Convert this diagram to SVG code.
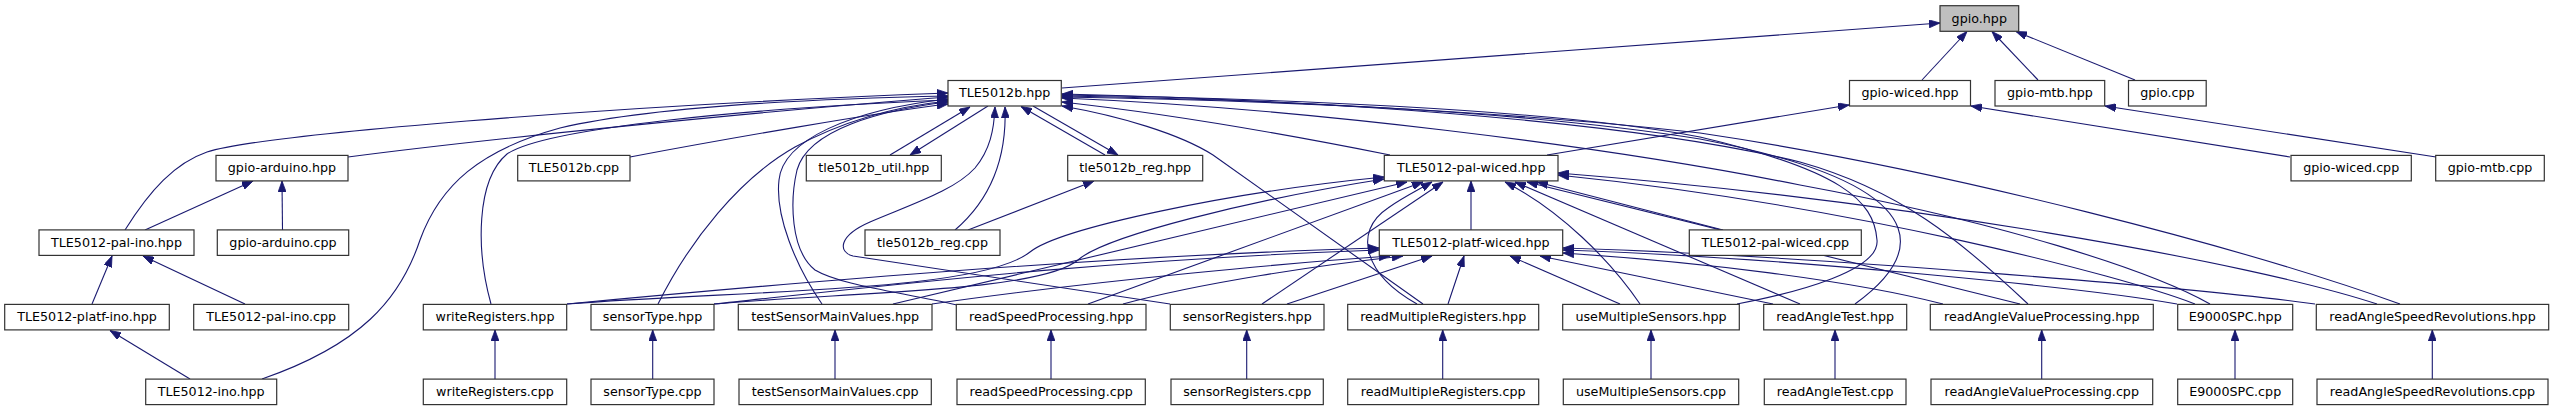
<svg xmlns="http://www.w3.org/2000/svg" width="2554" height="411" viewBox="0 0 2554 411">
<style>
.n rect{fill:#fff;stroke:#333;stroke-width:1.2}
.n.root rect{fill:#bfbfbf}
.n text{font-family:"DejaVu Sans",sans-serif;font-size:12.7px;fill:#000;text-anchor:middle}
#edges path{fill:none;stroke:#191970;stroke-width:1.1;marker-end:url(#ah)}
</style>
<defs>
<marker id="ah" viewBox="0 0 11 8" refX="11" refY="4" markerWidth="11" markerHeight="8" markerUnits="userSpaceOnUse" orient="auto">
<path d="M0,0 L11,4 L0,8 z" fill="#191970" stroke="#191970" stroke-width="0.8"/>
</marker>
</defs>
<rect width="2554" height="411" fill="#fff"/>
<g id="edges">
<path d="M1062,88 L1940,23"/>
<path d="M1922,80 L1967,31.5"/>
<path d="M2038,80 L1992,31.5"/>
<path d="M2135,80 L2016,31.5"/>
<path d="M1547,155 L1849,105"/>
<path d="M2290,157 L1971,106"/>
<path d="M2436,157 L2105,106"/>
<path d="M348,157 C500,137 800,108 948,97"/>
<path d="M125,230 C150,190 175,163 207,152 C260,135 600,106 948,93"/>
<path d="M262,379 C360,345 400,300 420,240 C440,185 480,150 560,128 C650,107 800,99 948,96"/>
<path d="M491,304 C476,250 476,180 507,154 C545,128 750,108 948,100"/>
<path d="M630,157 C720,140 880,112 948,104"/>
<path d="M658,304 C690,240 740,178 795,147 C845,120 900,106 948,101"/>
<path d="M822,304 C795,265 775,215 779,180 C783,140 850,110 948,99"/>
<path d="M957,305 C900,292 840,285 815,270 C790,250 790,200 797,170 C808,130 880,110 948,102"/>
<path d="M1170,304 L853,256 C838,252 838,236 870,222 C915,203 955,190 975,168 C990,150 994,130 995,107"/>
<path d="M890,155 L970,107"/>
<path d="M988,106 L910,155"/>
<path d="M955,230 C990,200 1007,160 1005,107"/>
<path d="M1105,155 L1021,106.5"/>
<path d="M1033,106 L1118,155"/>
<path d="M968,230 L1094,181"/>
<path d="M1390,155 C1320,141 1180,115 1062,102"/>
<path d="M1423,304 L1213,155 C1180,134 1120,116 1062,106"/>
<path d="M1737,304 C1800,292 1880,270 1877,240 C1874,200 1840,170 1700,137 C1550,108 1250,98 1062,95"/>
<path d="M1855,304 C1895,275 1906,250 1898,228 C1885,192 1820,162 1700,139 C1520,110 1250,99 1062,96"/>
<path d="M2028,304 C1960,240 1900,190 1800,162 C1620,118 1300,100 1062,94"/>
<path d="M2210,304 C2150,270 2000,222 1800,185 C1600,145 1300,108 1062,98"/>
<path d="M2400,304 C2250,250 1950,170 1700,133 C1500,110 1250,100 1062,97"/>
<path d="M567,304 C750,290 980,292 1030,252 C1060,228 1230,192 1384,177"/>
<path d="M714,304 C850,292 1040,292 1078,260 C1105,236 1250,200 1384,179"/>
<path d="M893,304 L1407,182"/>
<path d="M1088,304 L1423,182"/>
<path d="M1262,304 L1443,182"/>
<path d="M1417,304 C1365,275 1352,232 1388,208 C1402,198 1418,190 1432,182"/>
<path d="M1471,230 L1471,181"/>
<path d="M1640,304 C1610,260 1560,210 1505,182"/>
<path d="M1800,304 L1515,182"/>
<path d="M2020,304 L1527,182"/>
<path d="M1723,230 L1537,182"/>
<path d="M2195,304 C2120,275 1850,205 1558,175"/>
<path d="M2377,304 C2250,262 1900,200 1558,173"/>
<path d="M567,304 C800,282 1100,256 1379,248"/>
<path d="M714,304 C900,284 1100,260 1379,250"/>
<path d="M932,304 C1100,280 1300,262 1390,256"/>
<path d="M1123,304 C1200,283 1320,265 1403,256"/>
<path d="M1287,304 L1432,256"/>
<path d="M1448,304 L1464,256"/>
<path d="M1620,304 L1510,256"/>
<path d="M1773,304 L1540,256"/>
<path d="M1943,304 C1850,280 1700,262 1563,253"/>
<path d="M2177,304 C2100,290 1800,258 1563,250"/>
<path d="M2315,304 C2200,288 1800,255 1563,248"/>
<path d="M145,230 L253,181"/>
<path d="M282.5,230 L282,181"/>
<path d="M92,304 L112,256"/>
<path d="M245,304 L143,256"/>
<path d="M190,379 L110,330.5"/>
<path d="M495,379 L495,330"/>
<path d="M652.7,379 L652.7,330"/>
<path d="M835,379 L835,330"/>
<path d="M1051,379 L1051,330"/>
<path d="M1246.7,379 L1246.7,330"/>
<path d="M1442.7,379 L1442.7,330"/>
<path d="M1651,379 L1651,330"/>
<path d="M1835,379 L1835,330"/>
<path d="M2041.7,379 L2041.7,330"/>
<path d="M2235,379 L2235,330"/>
<path d="M2432.3,379 L2432.3,330"/>
</g>
<g id="n_gpio_hpp" class="n root"><rect x="1940" y="5.7" width="78.7" height="25.6"/><text x="1979.3" y="22.6">gpio.hpp</text></g>
<g id="n_TLE5012b_hpp" class="n"><rect x="948" y="80.5" width="113.3" height="25.5"/><text x="1004.7" y="97.4">TLE5012b.hpp</text></g>
<g id="n_gpio_wiced_hpp" class="n"><rect x="1849.5" y="80.5" width="121" height="25.5"/><text x="1910" y="97.4">gpio-wiced.hpp</text></g>
<g id="n_gpio_mtb_hpp" class="n"><rect x="1995" y="80.5" width="109.7" height="25.5"/><text x="2049.9" y="97.4">gpio-mtb.hpp</text></g>
<g id="n_gpio_cpp" class="n"><rect x="2128.5" y="80.5" width="77.7" height="25.5"/><text x="2167.4" y="97.4">gpio.cpp</text></g>
<g id="n_gpio_arduino_hpp" class="n"><rect x="216" y="155.4" width="132" height="25.5"/><text x="282" y="172.3">gpio-arduino.hpp</text></g>
<g id="n_TLE5012b_cpp" class="n"><rect x="517.7" y="155.4" width="112.3" height="25.5"/><text x="573.9" y="172.3">TLE5012b.cpp</text></g>
<g id="n_tle5012b_util_hpp" class="n"><rect x="806.3" y="155.4" width="135" height="25.5"/><text x="873.8" y="172.3">tle5012b_util.hpp</text></g>
<g id="n_tle5012b_reg_hpp" class="n"><rect x="1067.7" y="155.4" width="135" height="25.5"/><text x="1135.2" y="172.3">tle5012b_reg.hpp</text></g>
<g id="n_TLE5012_pal_wiced_hpp" class="n"><rect x="1384.3" y="155.4" width="173.7" height="25.5"/><text x="1471.2" y="172.3">TLE5012-pal-wiced.hpp</text></g>
<g id="n_gpio_wiced_cpp" class="n"><rect x="2291" y="155.4" width="120.3" height="25.5"/><text x="2351.2" y="172.3">gpio-wiced.cpp</text></g>
<g id="n_gpio_mtb_cpp" class="n"><rect x="2435.7" y="155.4" width="108.6" height="25.5"/><text x="2490" y="172.3">gpio-mtb.cpp</text></g>
<g id="n_TLE5012_pal_ino_hpp" class="n"><rect x="39" y="229.9" width="155" height="25.5"/><text x="116.5" y="246.8">TLE5012-pal-ino.hpp</text></g>
<g id="n_gpio_arduino_cpp" class="n"><rect x="217.3" y="229.9" width="131.4" height="25.5"/><text x="283" y="246.8">gpio-arduino.cpp</text></g>
<g id="n_tle5012b_reg_cpp" class="n"><rect x="865" y="229.9" width="135" height="25.5"/><text x="932.5" y="246.8">tle5012b_reg.cpp</text></g>
<g id="n_TLE5012_platf_wiced_hpp" class="n"><rect x="1379.3" y="229.9" width="183.4" height="25.5"/><text x="1471" y="246.8">TLE5012-platf-wiced.hpp</text></g>
<g id="n_TLE5012_pal_wiced_cpp" class="n"><rect x="1689.3" y="229.9" width="172" height="25.5"/><text x="1775.3" y="246.8">TLE5012-pal-wiced.cpp</text></g>
<g id="n_TLE5012_platf_ino_hpp" class="n"><rect x="4.7" y="304.4" width="164.6" height="25.5"/><text x="87" y="321.3">TLE5012-platf-ino.hpp</text></g>
<g id="n_TLE5012_pal_ino_cpp" class="n"><rect x="193.7" y="304.4" width="155" height="25.5"/><text x="271.2" y="321.3">TLE5012-pal-ino.cpp</text></g>
<g id="n_writeRegisters_hpp" class="n"><rect x="423.3" y="304.4" width="143.4" height="25.5"/><text x="495" y="321.3">writeRegisters.hpp</text></g>
<g id="n_sensorType_hpp" class="n"><rect x="591" y="304.4" width="123" height="25.5"/><text x="652.5" y="321.3">sensorType.hpp</text></g>
<g id="n_testSensorMainValues_hpp" class="n"><rect x="738.3" y="304.4" width="193.7" height="25.5"/><text x="835.2" y="321.3">testSensorMainValues.hpp</text></g>
<g id="n_readSpeedProcessing_hpp" class="n"><rect x="956.3" y="304.4" width="189.7" height="25.5"/><text x="1051.2" y="321.3">readSpeedProcessing.hpp</text></g>
<g id="n_sensorRegisters_hpp" class="n"><rect x="1170.3" y="304.4" width="153.7" height="25.5"/><text x="1247.2" y="321.3">sensorRegisters.hpp</text></g>
<g id="n_readMultipleRegisters_hpp" class="n"><rect x="1347.7" y="304.4" width="191" height="25.5"/><text x="1443.2" y="321.3">readMultipleRegisters.hpp</text></g>
<g id="n_useMultipleSensors_hpp" class="n"><rect x="1562.7" y="304.4" width="176.6" height="25.5"/><text x="1651" y="321.3">useMultipleSensors.hpp</text></g>
<g id="n_readAngleTest_hpp" class="n"><rect x="1763.7" y="304.4" width="143" height="25.5"/><text x="1835.2" y="321.3">readAngleTest.hpp</text></g>
<g id="n_readAngleValueProcessing_hpp" class="n"><rect x="1930.3" y="304.4" width="223" height="25.5"/><text x="2041.8" y="321.3">readAngleValueProcessing.hpp</text></g>
<g id="n_E9000SPC_hpp" class="n"><rect x="2177.7" y="304.4" width="115" height="25.5"/><text x="2235.2" y="321.3">E9000SPC.hpp</text></g>
<g id="n_readAngleSpeedRevolutions_hpp" class="n"><rect x="2316.3" y="304.4" width="232.4" height="25.5"/><text x="2432.5" y="321.3">readAngleSpeedRevolutions.hpp</text></g>
<g id="n_TLE5012_ino_hpp" class="n"><rect x="145.7" y="379.1" width="131" height="25.5"/><text x="211.2" y="396">TLE5012-ino.hpp</text></g>
<g id="n_writeRegisters_cpp" class="n"><rect x="423.3" y="379.1" width="143.4" height="25.5"/><text x="495" y="396">writeRegisters.cpp</text></g>
<g id="n_sensorType_cpp" class="n"><rect x="591" y="379.1" width="123" height="25.5"/><text x="652.5" y="396">sensorType.cpp</text></g>
<g id="n_testSensorMainValues_cpp" class="n"><rect x="739" y="379.1" width="192.3" height="25.5"/><text x="835.2" y="396">testSensorMainValues.cpp</text></g>
<g id="n_readSpeedProcessing_cpp" class="n"><rect x="957" y="379.1" width="188.3" height="25.5"/><text x="1051.2" y="396">readSpeedProcessing.cpp</text></g>
<g id="n_sensorRegisters_cpp" class="n"><rect x="1171" y="379.1" width="152.3" height="25.5"/><text x="1247.2" y="396">sensorRegisters.cpp</text></g>
<g id="n_readMultipleRegisters_cpp" class="n"><rect x="1347.7" y="379.1" width="191" height="25.5"/><text x="1443.2" y="396">readMultipleRegisters.cpp</text></g>
<g id="n_useMultipleSensors_cpp" class="n"><rect x="1563.3" y="379.1" width="175.4" height="25.5"/><text x="1651" y="396">useMultipleSensors.cpp</text></g>
<g id="n_readAngleTest_cpp" class="n"><rect x="1764.3" y="379.1" width="141.7" height="25.5"/><text x="1835.2" y="396">readAngleTest.cpp</text></g>
<g id="n_readAngleValueProcessing_cpp" class="n"><rect x="1931" y="379.1" width="221.7" height="25.5"/><text x="2041.8" y="396">readAngleValueProcessing.cpp</text></g>
<g id="n_E9000SPC_cpp" class="n"><rect x="2177.7" y="379.1" width="115" height="25.5"/><text x="2235.2" y="396">E9000SPC.cpp</text></g>
<g id="n_readAngleSpeedRevolutions_cpp" class="n"><rect x="2317" y="379.1" width="231" height="25.5"/><text x="2432.5" y="396">readAngleSpeedRevolutions.cpp</text></g>
</svg>
